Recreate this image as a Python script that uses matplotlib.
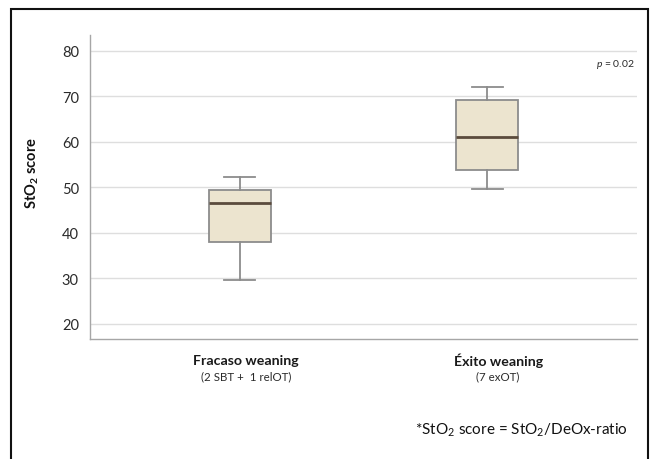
import matplotlib
matplotlib.use("Agg")
import matplotlib.pyplot as plt
from matplotlib.patches import Rectangle
from matplotlib.transforms import offset_copy

plt.rcParams['font.family'] = ['Lato', 'DejaVu Sans']
plt.rcParams['mathtext.fontset'] = 'custom'
plt.rcParams['mathtext.rm'] = 'Lato'
plt.rcParams['mathtext.bf'] = 'Lato:bold'
plt.rcParams['mathtext.it'] = 'Lato:italic'

# Summary statistics of the StO2 score per group
groups = ["Fracaso weaning", "Éxito weaning"]
subgroups = ["(2 SBT +  1 relOT)", "(7 exOT)"]
whisker_low = [29.6, 49.7]
q1 = [37.9, 53.8]
median = [46.5, 61.1]
q3 = [49.3, 69.1]
whisker_high = [52.3, 72.0]
yticks = [20, 30, 40, 50, 60, 70, 80]

fig = plt.figure(figsize=(6.51, 4.60), dpi=100)
ax = fig.add_axes([0.1382, 0.2609, 0.8403, 0.6608])

stats = [dict(whislo=whisker_low[i], q1=q1[i], med=median[i], q3=q3[i],
              whishi=whisker_high[i], fliers=[], label=groups[i])
         for i in range(len(groups))]

edge = '#8c8c8c'
ax.bxp(stats, positions=[0, 1], widths=0.25, patch_artist=True,
       showfliers=False,
       boxprops=dict(facecolor='#ece4cf', edgecolor=edge, linewidth=1.3),
       medianprops=dict(color='#5b4b3c', linewidth=2.0),
       whiskerprops=dict(color=edge, linewidth=1.3),
       capprops=dict(color=edge, linewidth=1.3),
       capwidths=0.125, zorder=3)

ax.set_xlim(-0.606, 1.606)
ax.set_ylim(16.7, 83.4)
ax.set_yticks(yticks)
ax.set_yticklabels([str(v) for v in yticks], fontsize=10.5, color='#2a2a2a')
ax.tick_params(axis='y', length=0, pad=8)
ax.set_xticks([0, 1])
ax.set_xticklabels(['', ''])
ax.tick_params(axis='x', length=0)

ax.grid(axis='y', color='#dedede', linewidth=1.0, zorder=0)
ax.set_axisbelow(True)
for s in ['top', 'right']:
    ax.spines[s].set_visible(False)
for s in ['left', 'bottom']:
    ax.spines[s].set_color('#a6a6a6')
    ax.spines[s].set_linewidth(1.0)

ax.set_ylabel(r'StO$_\mathbf{2}$ score', fontsize=10.5, fontweight='bold',
              color='#111111')
ax.yaxis.set_label_coords(-0.090, 0.55)

# Group labels under the axis
trans = ax.get_xaxis_transform()
shifts = [6, 11]
for i, (g, sg) in enumerate(zip(groups, subgroups)):
    tr = offset_copy(trans, fig=fig, x=shifts[i], y=0, units='dots')
    ax.text(i, -0.068, g, transform=tr, ha='center', va='center',
            fontsize=10.2, fontweight='bold', color='#1a1a1a')
    ax.text(i, -0.122, sg, transform=tr, ha='center', va='center',
            fontsize=8.3, color='#2a2a2a')

ax.text(0.995, 0.905, r'$\it{p}$ = 0.02', transform=ax.transAxes,
        ha='right', va='center', fontsize=7.5, color='#2a2a2a')

fig.text(628 / 651, 1 - 430 / 460, r'*StO$_2$ score = StO$_2$/DeOx-ratio',
         ha='right', va='center', fontsize=11, color='#111111')

# Frame around the figure
fig.patches.append(Rectangle((11 / 651, -0.05), 637 / 651, 1.05 - 10 / 460,
                             transform=fig.transFigure, fill=False,
                             edgecolor='#111111', linewidth=1.5))

fig.savefig('out.png', dpi=100)
